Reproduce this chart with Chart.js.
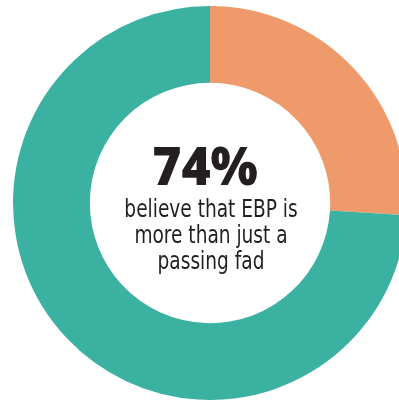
<!DOCTYPE html>
<html>
<head>
<meta charset="utf-8">
<script src="https://cdn.jsdelivr.net/npm/chart.js"></script>
<style>
  html, body { margin: 0; padding: 0; background: #fff; overflow: hidden; width: 399px; height: 402px; }
  #wrap { position: absolute; left: 13px; top: 6px; width: 394px; height: 394px; }
</style>
</head>
<body>
<div id="wrap"><canvas id="myChart" width="394" height="394"></canvas></div>
<script>
const labels = ["Just a passing fad", "More than just a passing fad"];
const values = [26, 74];
const colors = ["#ee9a6a", "#3bb2a1"];
const bigText = "74%";
const subLines = ["believe that EBP is", "more than just a", "passing fad"];

const centerText = {
  id: "centerText",
  afterDraw(chart) {
    const ctx = chart.ctx;
    const arc = chart.getDatasetMeta(0).data[0];
    const cx = arc.x, cy = arc.y;
    ctx.save();
    ctx.fillStyle = "#231f20";
    ctx.textAlign = "center";
    ctx.textBaseline = "alphabetic";
    ctx.translate(cx - 5, 0);
    ctx.scale(0.94, 1);
    ctx.font = "800 53px 'Open Sans'";
    ctx.fillText(bigText, 0, cy - 18);
    ctx.restore();
    ctx.save();
    ctx.fillStyle = "#231f20";
    ctx.textAlign = "center";
    ctx.translate(cx + 1, 0);
    ctx.scale(0.86, 1);
    ctx.font = "24px 'Liberation Sans Narrow', 'DejaVu Sans Condensed', sans-serif";
    subLines.forEach((t, i) => {
      ctx.fillText(t, 0, cy + 14 + i * 26);
    });
    ctx.restore();
  }
};

new Chart("myChart", {
  type: "doughnut",
  data: {
    labels: labels,
    datasets: [
      {
        data: values,
        backgroundColor: colors,
        borderWidth: 0,
      },
    ],
  },
  options: {
    responsive: false,
    animation: false,
    cutout: "61%",
    plugins: {
      legend: { display: false },
      tooltip: { enabled: false },
    },
  },
  plugins: [centerText],
});
</script>
</body>
</html>
